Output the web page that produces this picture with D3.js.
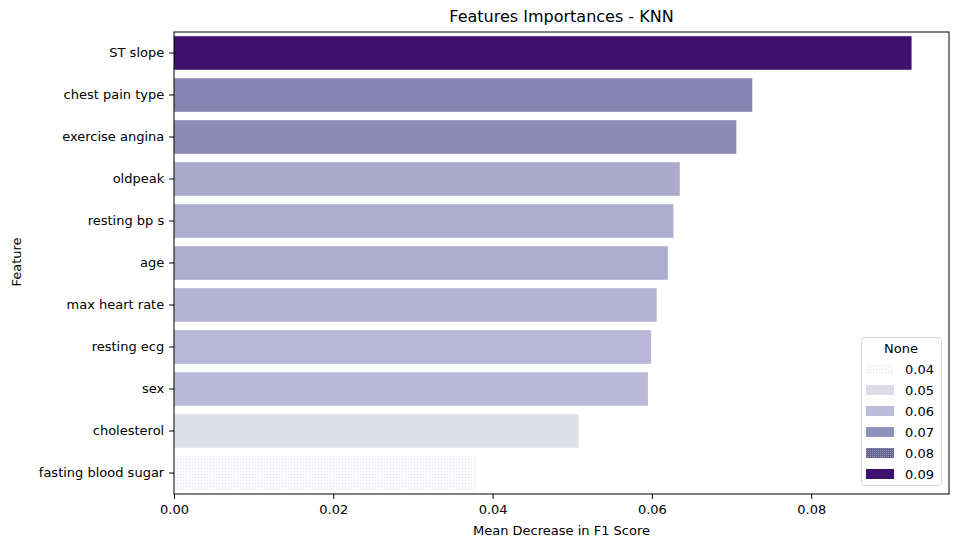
<!DOCTYPE html>
<html><head><meta charset="utf-8">
<script src="https://cdn.jsdelivr.net/npm/d3@7"></script>
<style>body{margin:0;background:#fff}svg{font-family:"DejaVu Sans",sans-serif}</style>
</head><body><svg id="c" width="958" height="547"></svg>
<script>
const features = ["ST slope","chest pain type","exercise angina","oldpeak","resting bp s","age","max heart rate","resting ecg","sex","cholesterol","fasting blood sugar"];
const importances = [0.0926,0.0726,0.0706,0.0635,0.0627,0.0620,0.0606,0.0599,0.0595,0.0508,0.0380];
const barColors = ["#3f116f","#8784b2","#8d8bb6","#abaacc","#aeadcf","#aeadcf","#b5b4d5","#b8b7d7","#bbbad9","#dfdfea","url(#dotsLight)"];
const xTicks = [0,0.02,0.04,0.06,0.08];
const legendLabels = ["0.04","0.05","0.06","0.07","0.08","0.09"];
const legendColors = ["url(#dotsLight)","#dcdcea","#bcbbda","#9391bd","url(#dotsDark)","#3f116f"];

const svg = d3.select("#c");
const m = {l:174, r:949, t:32, b:494};
const defs = svg.append("defs");
const p1 = defs.append("pattern").attr("id","dotsLight").attr("patternUnits","userSpaceOnUse").attr("width",3).attr("height",3);
p1.append("rect").attr("width",3).attr("height",3).attr("fill","#fbfbfd");
p1.append("rect").attr("width",1).attr("height",1).attr("fill","#e4e4ec");
const p2 = defs.append("pattern").attr("id","dotsDark").attr("patternUnits","userSpaceOnUse").attr("width",2).attr("height",2);
p2.append("rect").attr("width",2).attr("height",2).attr("fill","#66658f");
p2.append("rect").attr("width",1).attr("height",1).attr("fill","#9a99c0");

const x = d3.scaleLinear().domain([0,0.0973]).range([m.l,m.r]);
const y = d3.scaleBand().domain(features).range([m.t,m.b]).paddingInner(0.2).paddingOuter(0.1);

svg.append("g").selectAll("rect").data(features).join("rect")
  .attr("x",x(0)).attr("y",d=>y(d)).attr("height",y.bandwidth())
  .attr("width",(d,i)=>x(importances[i])-x(0))
  .attr("fill",(d,i)=>barColors[i]);

const xa = svg.append("g").attr("transform",`translate(0,${m.b})`)
  .call(d3.axisBottom(x).tickValues(xTicks).tickFormat(d3.format(".2f")).tickSizeOuter(0).tickSize(4.9).tickPadding(5.5));
const ya = svg.append("g").attr("transform",`translate(${m.l},0)`)
  .call(d3.axisLeft(y).tickSizeOuter(0).tickSize(4.9).tickPadding(4.9));
[xa,ya].forEach(a=>{a.selectAll("text").attr("font-size",13).attr("fill","#000").attr("font-family","DejaVu Sans");a.select(".domain").remove();a.selectAll("line").attr("stroke","#000").attr("stroke-width",1);});

svg.append("rect").attr("x",m.l).attr("y",m.t).attr("width",m.r-m.l).attr("height",m.b-m.t)
  .attr("fill","none").attr("stroke","#000").attr("stroke-width",1);

svg.append("text").attr("x",(m.l+m.r)/2).attr("y",22).attr("text-anchor","middle").attr("font-size",16).text("Features Importances - KNN");
svg.append("text").attr("x",(m.l+m.r)/2).attr("y",535).attr("text-anchor","middle").attr("font-size",13).text("Mean Decrease in F1 Score");
svg.append("text").attr("transform","translate(21,262) rotate(-90)").attr("text-anchor","middle").attr("font-size",13).text("Feature");

const lg = svg.append("g");
lg.append("rect").attr("x",861.5).attr("y",337.5).attr("width",80).attr("height",148).attr("rx",3)
  .attr("fill","#fff").attr("fill-opacity",0.8).attr("stroke","#d5d5d5");
lg.append("text").attr("x",901).attr("y",353).attr("text-anchor","middle").attr("font-size",13).text("None");
legendLabels.forEach((l,i)=>{
  const yy = 368 + i*21;
  lg.append("rect").attr("x",866).attr("y",yy-4).attr("width",28).attr("height",10).attr("fill",legendColors[i]);
  lg.append("text").attr("x",905).attr("y",yy+6).attr("font-size",13).text(l);
});
</script></body></html>
